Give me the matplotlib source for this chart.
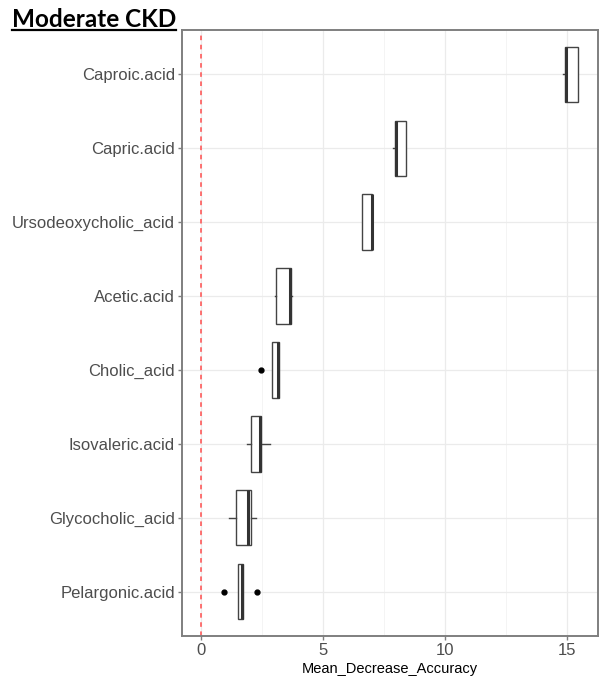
import matplotlib
matplotlib.use("Agg")
import matplotlib.pyplot as plt
from matplotlib.ticker import MultipleLocator

# boxplot stats (top to bottom)
features = ["Caproic.acid", "Capric.acid", "Ursodeoxycholic_acid", "Acetic.acid",
            "Cholic_acid", "Isovaleric.acid", "Glycocholic_acid", "Pelargonic.acid"]
q1 = [14.92, 7.95, 6.59, 3.07, 2.90, 2.05, 1.42, 1.52]
med = [14.95, 8.01, 7.00, 3.67, 3.17, 2.42, 1.91, 1.68]
q3 = [15.45, 8.40, 7.02, 3.70, 3.20, 2.45, 2.07, 1.71]
whislo = [14.84, 7.87, 6.59, 3.02, 2.90, 1.87, 1.15, 1.52]
whishi = [15.47, 8.40, 7.02, 3.72, 3.22, 2.83, 2.25, 1.71]
fliers = [[], [], [], [], [2.45], [], [], [0.96, 2.31]]

plt.rcParams["font.family"] = ["Liberation Sans", "DejaVu Sans"]

fig = plt.figure(figsize=(6.04, 6.78), dpi=100)
ax = fig.add_axes([182 / 604, 1 - 636 / 678, 416 / 604, 606 / 678])

n = len(features)
pos = list(range(n, 0, -1))
stats = []
for i in range(n):
    stats.append(dict(q1=q1[i], med=med[i], q3=q3[i], whislo=whislo[i],
                      whishi=whishi[i], fliers=fliers[i], label=features[i]))

ax.bxp(stats, positions=pos, vert=False, widths=0.75, patch_artist=True,
       showcaps=False,
       boxprops=dict(facecolor="white", edgecolor="#444444", linewidth=1.0),
       medianprops=dict(color="#333333", linewidth=2.2),
       whiskerprops=dict(color="#444444", linewidth=1.0),
       flierprops=dict(marker="o", markerfacecolor="black", markeredgecolor="black",
                       markersize=3.5))

ax.axvline(0, color="#FF4D4D", linestyle=(0, (3, 3)), linewidth=1.1, zorder=1)

ax.set_xlim(-0.775, 16.275)
ax.set_ylim(0.4, n + 0.6)
ax.set_yticks(pos)
ax.set_yticklabels(features)
ax.xaxis.set_major_locator(MultipleLocator(5))
ax.xaxis.set_minor_locator(MultipleLocator(2.5))
ax.grid(which="major", color="#EBEBEB", linewidth=0.9)
ax.grid(which="minor", axis="x", color="#F3F3F3", linewidth=0.6)
ax.set_axisbelow(True)
ax.tick_params(axis="both", which="major", colors="#7F7F7F", length=3, width=1,
               labelcolor="#4D4D4D")
ax.tick_params(axis="y", labelsize=12, pad=2)
ax.tick_params(axis="x", labelsize=12, pad=2)
ax.tick_params(which="minor", length=0)
for s in ax.spines.values():
    s.set_color("#7F7F7F")
    s.set_linewidth(1.4)

ax.set_xlabel("Mean_Decrease_Accuracy", fontsize=10.5, color="black", labelpad=3)

fig.text(12 / 604, 1 - 27 / 678, "Moderate CKD", fontsize=17.5, fontweight="bold",
         family=["Lato", "DejaVu Sans"], va="baseline", ha="left")
fig.add_artist(plt.Line2D([12 / 604, 176 / 604], [1 - 30 / 678, 1 - 30 / 678],
                          color="black", linewidth=1.6))

fig.savefig("out.png", dpi=100)
